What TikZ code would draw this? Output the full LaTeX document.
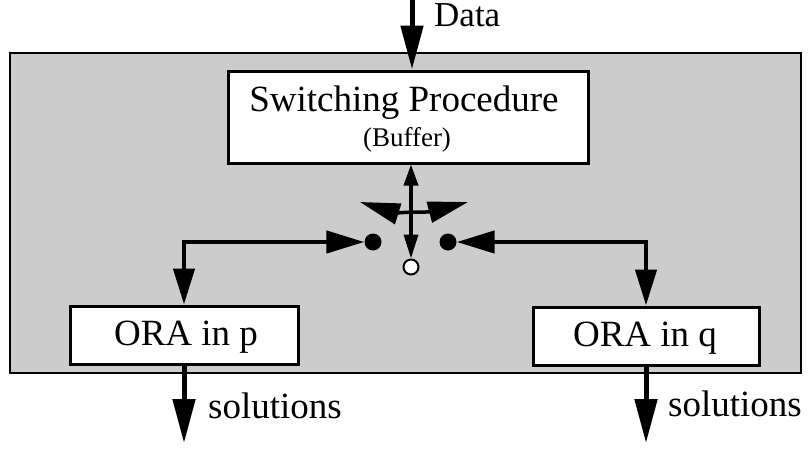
\documentclass[tikz,border=0pt]{standalone}
\usepackage{fontspec}
\setmainfont{Liberation Serif}
\usetikzlibrary{arrows.meta}
\begin{document}
\begin{tikzpicture}[x=1pt,y=-1pt,
  box/.style={draw, fill=white, line width=3pt, inner sep=0pt},
  bigtext/.style={font=\fontsize{37}{40}\selectfont, inner sep=0pt},
  midtext/.style={font=\fontsize{35}{38}\selectfont, inner sep=0pt},
  smalltext/.style={font=\fontsize{27}{30}\selectfont, inner sep=0pt},
  flow/.style={line width=5pt, -{Triangle[length=44pt,width=22pt]}},
  feed/.style={line width=4.5pt, {Triangle[length=36pt,width=21pt]}-{Triangle[length=38pt,width=22pt]}},
  switch/.style={line width=3.5pt, {Triangle[length=21pt,width=14pt]}-{Triangle[length=24pt,width=14pt]}},
  swing/.style={line width=3.5pt, {Triangle[length=40pt,width=21pt]}-{Triangle[length=40pt,width=21pt]}},
  contact/.style={circle, fill=black, minimum size=17pt, inner sep=0pt},
  pivot/.style={circle, draw, fill=white, line width=2pt, minimum size=15pt, inner sep=0pt}
]
\useasboundingbox (0,0) rectangle (808,448);

% shaded frame
\fill[black!20] (10,53) rectangle (801,373);
\draw[line width=2pt] (10,53) rectangle (801,373);

% blocks
\node[box, minimum width=360pt, minimum height=92pt] (sw) at (408,117) {};
\node[bigtext, anchor=base] (swtitle) at (404,111) {Switching Procedure};
\node[smalltext, anchor=base] (swsub) at (407,146) {(Buffer)};

\node[box, minimum width=228pt, minimum height=58pt] (orap) at (184,335) {};
\node[bigtext, anchor=base] (orapt) at (186,345) {ORA in p};
\node[box, minimum width=226pt, minimum height=58pt] (oraq) at (646,336) {};
\node[bigtext, anchor=base] (oraqt) at (645,346) {ORA in q};

% switch contacts
\node[contact] (dl) at (373,242) {};
\node[contact] (dr) at (448,242) {};
\node[pivot] (oc) at (411,267) {};

% input
\coordinate (din) at (412,0);
\draw[flow] (din) -- (din |- sw.north);
\node[midtext, anchor=base west] (datalabel) at (434,26) {Data};

% switch lever and swing
\draw[switch] (oc.north |- sw.south) -- (oc.north);
\coordinate (swl) at (360,202);
\coordinate (swr) at (468,202);
\draw[swing] (swl) .. controls (392,212) and (430,212) .. (swr);

% feeds to the two solvers
\draw[feed] (orap.north) |- (dl.west);
\draw[feed] (oraq.north) |- (dr.east);

% outputs
\coordinate (outp) at (184,443);
\coordinate (outq) at (646,443);
\draw[flow] (orap.south) -- (outp);
\draw[flow] (oraq.south) -- (outq);
\node[bigtext, anchor=base west] (solp) at (208,418) {solutions};
\node[bigtext, anchor=base west] (solq) at (668,416) {solutions};
\end{tikzpicture}
\end{document}
